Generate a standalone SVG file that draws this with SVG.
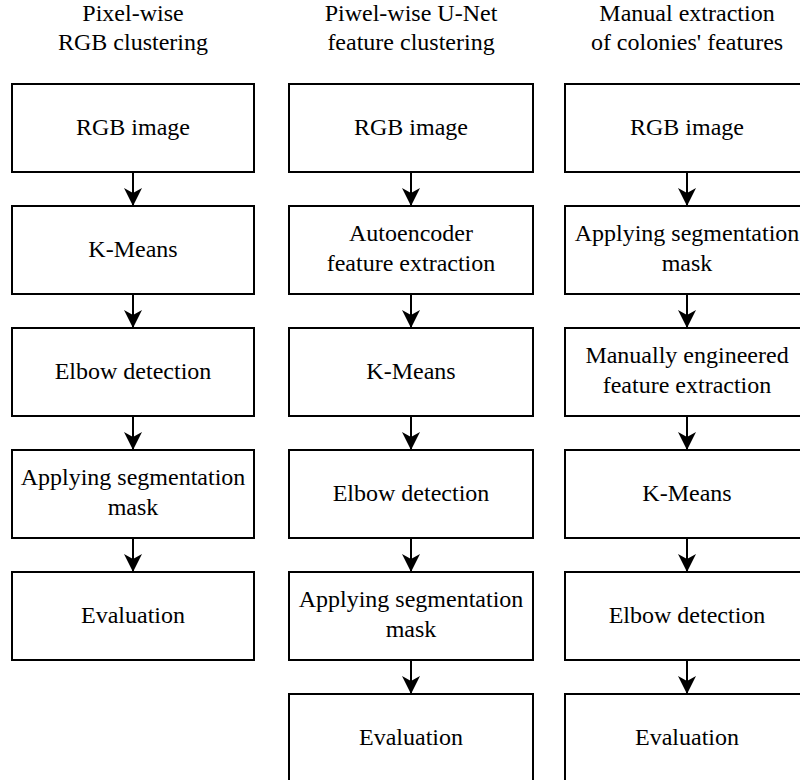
<svg xmlns="http://www.w3.org/2000/svg" width="800" height="780" viewBox="0 0 800 780">
<defs>
<style>
text{font-family:"Liberation Serif","Times New Roman",serif;font-size:24px;fill:#000;text-anchor:middle}
.box{fill:#fff;stroke:#000;stroke-width:2}
.conn{stroke:#000;stroke-width:2;fill:none;marker-end:url(#ah)}
</style>
<marker id="ah" markerUnits="userSpaceOnUse" markerWidth="18" markerHeight="18" refX="18" refY="9" orient="auto" viewBox="0 0 18 18">
<path d="M0,0 L18,9 L0,18 L5,9 Z" fill="#000"/>
</marker>
</defs>
<rect width="800" height="780" fill="#fff"/>
<g id="titles">
<text x="133" y="21">Pixel-wise</text>
<text x="133" y="50">RGB clustering</text>
<text x="411" y="21">Piwel-wise U-Net</text>
<text x="411" y="50">feature clustering</text>
<text x="687" y="21">Manual extraction</text>
<text x="687" y="50">of colonies' features</text>
</g>
<g id="connectors">
<line class="conn" x1="133" y1="172" x2="133" y2="206"/>
<line class="conn" x1="133" y1="294" x2="133" y2="328"/>
<line class="conn" x1="133" y1="416" x2="133" y2="450"/>
<line class="conn" x1="133" y1="538" x2="133" y2="572"/>
<line class="conn" x1="411" y1="172" x2="411" y2="206"/>
<line class="conn" x1="411" y1="294" x2="411" y2="328"/>
<line class="conn" x1="411" y1="416" x2="411" y2="450"/>
<line class="conn" x1="411" y1="538" x2="411" y2="572"/>
<line class="conn" x1="411" y1="660" x2="411" y2="694"/>
<line class="conn" x1="687" y1="172" x2="687" y2="206"/>
<line class="conn" x1="687" y1="294" x2="687" y2="328"/>
<line class="conn" x1="687" y1="416" x2="687" y2="450"/>
<line class="conn" x1="687" y1="538" x2="687" y2="572"/>
<line class="conn" x1="687" y1="660" x2="687" y2="694"/>
</g>
<g id="c1n1"><rect class="box" x="12" y="84" width="242" height="88"/><text x="133" y="135">RGB image</text></g>
<g id="c1n2"><rect class="box" x="12" y="206" width="242" height="88"/><text x="133" y="257">K-Means</text></g>
<g id="c1n3"><rect class="box" x="12" y="328" width="242" height="88"/><text x="133" y="379">Elbow detection</text></g>
<g id="c1n4"><rect class="box" x="12" y="450" width="242" height="88"/><text x="133" y="485">Applying segmentation</text><text x="133" y="515">mask</text></g>
<g id="c1n5"><rect class="box" x="12" y="572" width="242" height="88"/><text x="133" y="623">Evaluation</text></g>

<g id="c2n1"><rect class="box" x="289" y="84" width="244" height="88"/><text x="411" y="135">RGB image</text></g>
<g id="c2n2"><rect class="box" x="289" y="206" width="244" height="88"/><text x="411" y="241">Autoencoder</text><text x="411" y="271">feature extraction</text></g>
<g id="c2n3"><rect class="box" x="289" y="328" width="244" height="88"/><text x="411" y="379">K-Means</text></g>
<g id="c2n4"><rect class="box" x="289" y="450" width="244" height="88"/><text x="411" y="501">Elbow detection</text></g>
<g id="c2n5"><rect class="box" x="289" y="572" width="244" height="88"/><text x="411" y="607">Applying segmentation</text><text x="411" y="637">mask</text></g>
<g id="c2n6"><rect class="box" x="289" y="694" width="244" height="88"/><text x="411" y="745">Evaluation</text></g>

<g id="c3n1"><rect class="box" x="565" y="84" width="244" height="88"/><text x="687" y="135">RGB image</text></g>
<g id="c3n2"><rect class="box" x="565" y="206" width="244" height="88"/><text x="687" y="241">Applying segmentation</text><text x="687" y="271">mask</text></g>
<g id="c3n3"><rect class="box" x="565" y="328" width="244" height="88"/><text x="687" y="363">Manually engineered</text><text x="687" y="393">feature extraction</text></g>
<g id="c3n4"><rect class="box" x="565" y="450" width="244" height="88"/><text x="687" y="501">K-Means</text></g>
<g id="c3n5"><rect class="box" x="565" y="572" width="244" height="88"/><text x="687" y="623">Elbow detection</text></g>
<g id="c3n6"><rect class="box" x="565" y="694" width="244" height="88"/><text x="687" y="745">Evaluation</text></g>
</svg>
